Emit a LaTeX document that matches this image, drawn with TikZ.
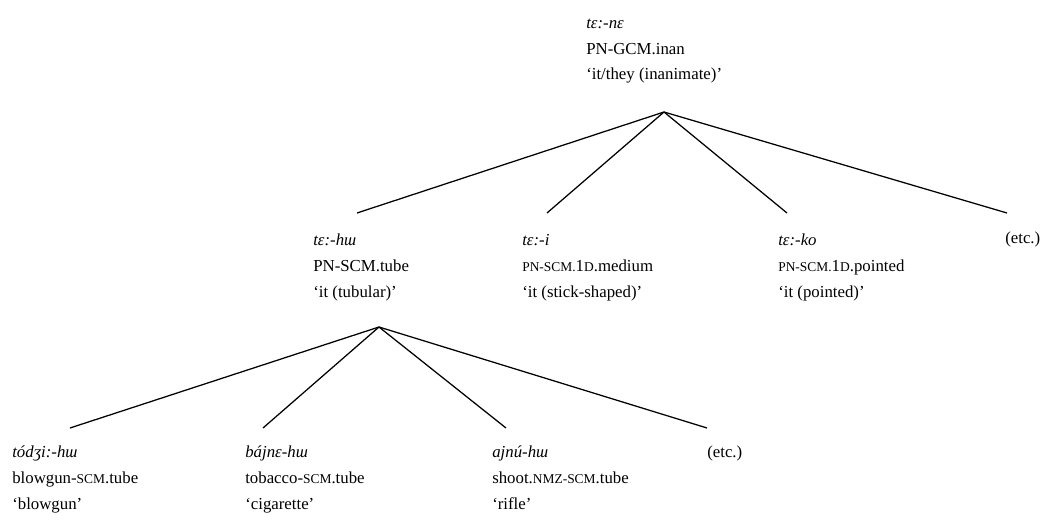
\documentclass[tikz,border=0pt]{standalone}
\usepackage{fontspec}
\setmainfont{Liberation Serif}
\usetikzlibrary{positioning}

\newcommand\smc[1]{{\fontsize{9.6pt}{10pt}\selectfont #1}}

\begin{document}
\begin{tikzpicture}[x=0.714pt,y=-0.714pt,
    every node/.style={inner sep=0pt,anchor=base west,align=left,
      font=\fontsize{12pt}{18.5pt}\selectfont},
    branch/.style={line width=0.9pt}]
    \useasboundingbox (0,0) rectangle (1059,524);
    % top (base = last line)
    \node (tene) at (586,80) {\textit{tɛ:-nɛ}\\PN-GCM.inan\\‘it/they (inanimate)’};
    % level 1
    \node (tehu) at (313,297) {\textit{tɛ:-hɯ}\\PN-SCM.tube\\‘it (tubular)’};
    \node (tei) at (522,297) {\textit{tɛ:-i}\\\smc{PN-SCM.}1\smc{D}.medium\\‘it (stick-shaped)’};
    \node (teko) at (778,297) {\textit{tɛ:-ko}\\\smc{PN-SCM.}1\smc{D}.pointed\\‘it (pointed)’};
    \node (etc1) at (1005,244) {(etc.)};
    % level 2
    \node (blow) at (12,509) {\textit{tódʒi:-hɯ}\\blowgun-\smc{SCM}.tube\\‘blowgun’};
    \node (cig) at (245,509) {\textit{bájnɛ-hɯ}\\tobacco-\smc{SCM}.tube\\‘cigarette’};
    \node (rifle) at (492,509) {\textit{ajnú-hɯ}\\shoot.\smc{NMZ-SCM}.tube\\‘rifle’};
    \node (etc2) at (707,457) {(etc.)};
    % branch points and ends
    \coordinate (ap1) at (664,112);
    \coordinate (ap2) at (379,327);
    \coordinate (tehu-t) at (357,213);
    \coordinate (tei-t) at (547,213);
    \coordinate (teko-t) at (787,213);
    \coordinate (etc1-t) at (1007,213);
    \coordinate (blow-t) at (70,428);
    \coordinate (cig-t) at (263,428);
    \coordinate (rifle-t) at (506,428);
    \coordinate (etc2-t) at (707,428);
    \foreach \e in {tehu-t,tei-t,teko-t,etc1-t}
        \draw[branch] (ap1) -- (\e);
    \foreach \e in {blow-t,cig-t,rifle-t,etc2-t}
        \draw[branch] (ap2) -- (\e);
\end{tikzpicture}
\end{document}
